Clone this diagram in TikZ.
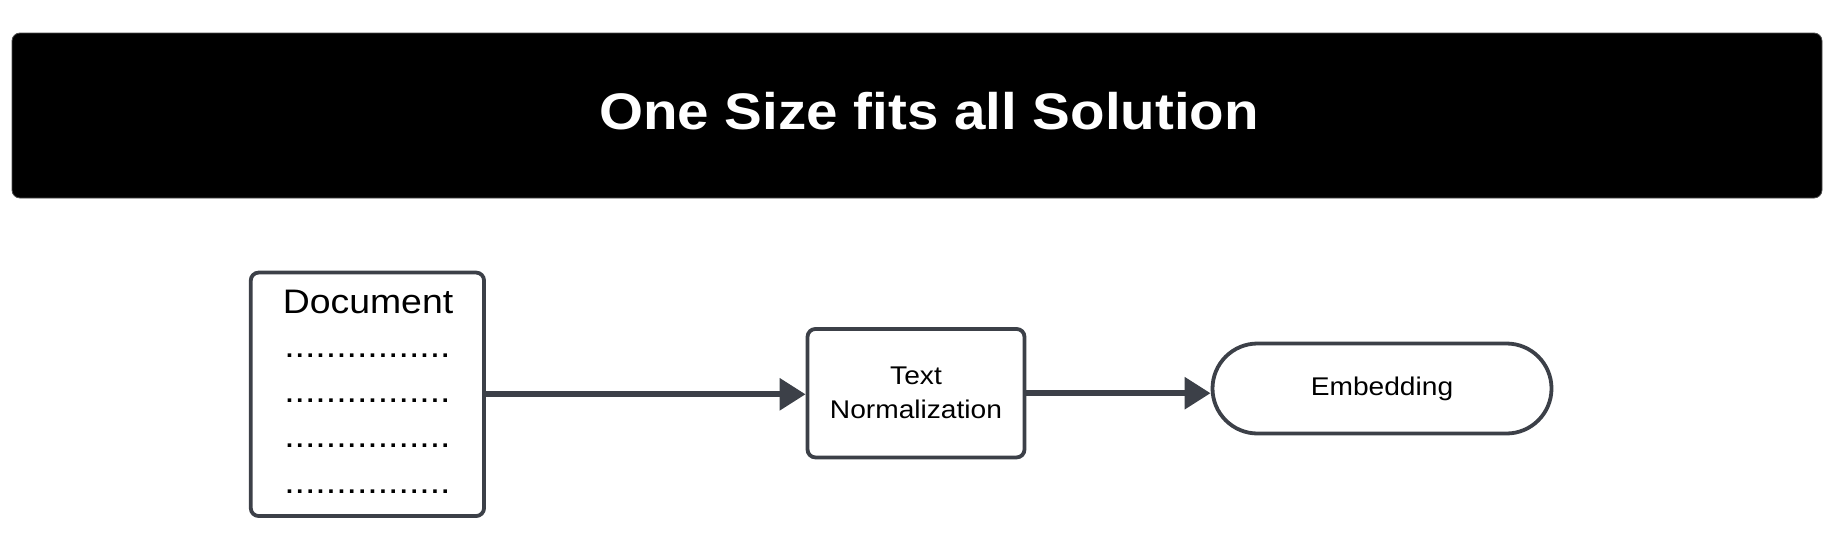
\documentclass[tikz,border=0pt]{standalone}
\usepackage{fontspec}
\setmainfont{Liberation Sans}[FakeStretch=1.1]
\usetikzlibrary{arrows.meta}
\definecolor{edgegray}{RGB}{60,64,72}
\tikzset{
  banner/.style={rectangle, rounded corners=8pt, fill=black, draw=black!70, line width=0.8pt,
    minimum width=1810pt, minimum height=165pt, inner sep=0pt},
  titletxt/.style={anchor=base, text=white, inner sep=0pt, font=\bfseries\fontsize{51.4}{60}\selectfont},
  procbox/.style={rectangle, rounded corners=8pt, draw=edgegray, line width=3.8pt, fill=white, inner sep=0pt},
  doctxt/.style={anchor=base, inner sep=0pt, font=\fontsize{34}{40}\selectfont},
  smalltxt/.style={font=\fontsize{25.6}{34}\selectfont, align=center},
  flow/.style={draw=edgegray, line width=6pt, -{Triangle[length=26pt, width=31pt]}}
}
\begin{document}
\begin{tikzpicture}[x=1pt, y=-1pt]
\useasboundingbox (0,0) rectangle (1834,554);
\node[banner] (ban) at (917,115.5) {};
\node[titletxt] (title) at (929,129.5) {One Size fits all Solution};

\node[procbox, minimum width=233.3pt, minimum height=243.5pt] (doc) at (367.4,394.3) {};
\node[doctxt] (doclabel) at (368,313.3) {Document};
\node[doctxt] (dots1) at (367.4,357) {................};
\node[doctxt] (dots2) at (367.4,402.3) {................};
\node[doctxt] (dots3) at (367.4,447.6) {................};
\node[doctxt] (dots4) at (367.4,493) {................};

\node[procbox, smalltxt, minimum width=217pt, minimum height=128.5pt] (norm) at (916,393.2) {Text\\Normalization};

\node[procbox, smalltxt, rounded corners=45pt, minimum width=339pt, minimum height=90pt] (emb) at (1382,388.5) {Embedding};

\draw[flow] (doc.east) -- (doc.east -| norm.west);
\draw[flow] (norm.east) -- (norm.east -| emb.west);
\end{tikzpicture}
\end{document}
